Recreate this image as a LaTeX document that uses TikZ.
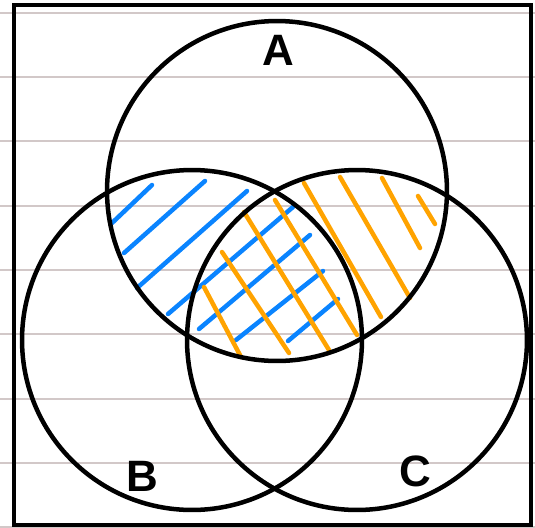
\documentclass[tikz,border=0pt]{standalone}
\usepackage{fontspec}
\setsansfont{Liberation Sans}
\definecolor{hatchblue}{RGB}{10, 132, 255}
\definecolor{hatchorange}{RGB}{255, 163, 0}
\definecolor{rulegray}{RGB}{210, 200, 200}
\usetikzlibrary{positioning}

\begin{document}
\begin{tikzpicture}[x=0.02cm, y=-0.02cm,
      set/.style={draw=black, line width=0.09cm, circle, minimum size=6.8cm, inner sep=0pt},
      setlabel/.style={font=\fontsize{25}{25}\selectfont\sffamily\bfseries},
      hatch/.style={line width=0.09cm, line cap=round},
      ruled/.style={draw=rulegray, line width=0.04cm}
    ]
      \useasboundingbox (0,0) rectangle (535,528);
      % notebook lines
      \foreach \y in {13,77,141,206,270,334,399,463,527}
        \draw[ruled] (0,\y) -- (535,\y);
      \draw[line width=0.09cm] (14,5) rectangle (531,525);

      % hatching of A and B
      \foreach \xa/\ya/\xb/\yb in {112/223/152/185, 124/253/205/181, 137/288/247/191,
          168/314/293/207, 199/329/310/235, 236/340/323/271, 288/341/338/299}
        \draw[hatch, hatchblue] (\xa,\ya) -- (\xb,\yb);
      % hatching of A and C
      \foreach \xa/\ya/\xb/\yb in {204/287/241/357, 222/252/289/353, 244/212/329/350,
          275/200/357/335, 304/183/381/317, 340/177/410/298, 382/178/420/248, 418/196/435/224}
        \draw[hatch, hatchorange] (\xa,\ya) -- (\xb,\yb);

      \node[set] (setA) at (277,191) {};
      \node[set] (setB) at (192,340) {};
      \node[set] (setC) at (357,340) {};

      \node[setlabel] (labA) at (278,50) {A};
      \node[setlabel] (labB) at (142,476) {B};
      \node[setlabel] (labC) at (415,471) {C};
    \end{tikzpicture}
\end{document}
